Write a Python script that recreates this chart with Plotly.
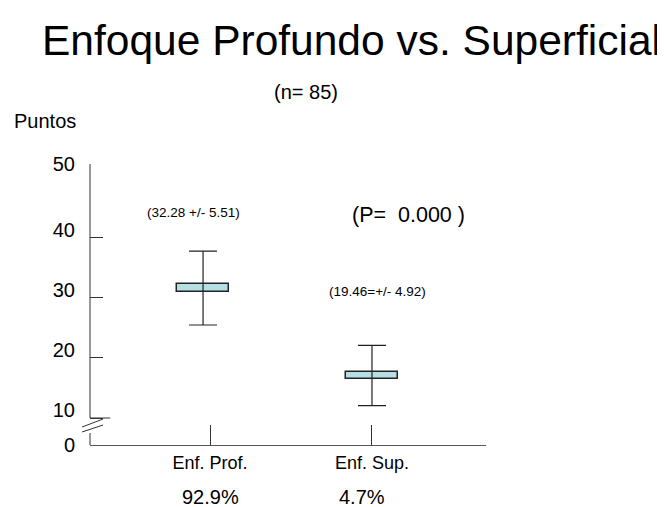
import plotly.graph_objects as go

# ---- data ----
categories = ["Enf. Prof.", "Enf. Sup."]
percentages = ["92.9%", "4.7%"]
box_low = [31.05, 16.5]
box_high = [32.28, 17.72]
whisker_low = [25.5, 12.05]
whisker_high = [37.8, 22.1]
stat_labels = ["(32.28 +/- 5.51)", "(19.46=+/- 4.92)"]
p_label = "(P=\u00a0\u00a00.000 )"
n_label = "(n= 85)"
y_tick_vals = [10, 20, 30, 40]
y_tick_text = ["10", "20", "30", "40"]
y_end_text = ["0", "50"]

# ---- layout helpers (scale / style, not data) ----
cat_pos = [1, 2]
box_shift = [-0.043, 0.0]
Y_BOTTOM, Y_TOP = 5.5, 52.33          # broken axis: bottom shown as "0", top shown as "50"
X_RANGE = [0.259, 2.704]
FONT = "Liberation Sans, Arial, sans-serif"
AX = "#333333"

box_x = [c + s for c, s in zip(cat_pos, box_shift)]
mid = [(lo + hi) / 2 for lo, hi in zip(box_low, box_high)]

fig = go.Figure()

fig.add_trace(go.Bar(
    x=box_x, y=[hi - lo for lo, hi in zip(box_low, box_high)], base=box_low,
    width=0.32, marker=dict(color="#B4E0E4", line=dict(color="#222222", width=1.5)),
    hoverinfo="skip", showlegend=False,
))

fig.add_trace(go.Scatter(
    x=box_x, y=mid, mode="markers", marker=dict(size=1, color="rgba(0,0,0,0)"),
    error_y=dict(type="data", symmetric=False,
                 array=[h - m for h, m in zip(whisker_high, mid)],
                 arrayminus=[m - l for m, l in zip(mid, whisker_low)],
                 width=14, thickness=1.2, color="#222222"),
    hoverinfo="skip", showlegend=False,
))

# second y axis only for the "0" and "50" labels of the broken axis
fig.add_trace(go.Scatter(x=[None], y=[None], yaxis="y2", showlegend=False, hoverinfo="skip"))

shapes = [
    dict(type="line", xref="paper", yref="y", x0=0, x1=0, y0=10, y1=Y_TOP,
         line=dict(color=AX, width=1)),
    dict(type="line", xref="paper", yref="y", x0=0, x1=0, y0=Y_BOTTOM, y1=7.5,
         line=dict(color=AX, width=1)),
    dict(type="line", xref="paper", yref="y", x0=0, x1=0.051, y0=10, y1=10,
         line=dict(color=AX, width=1)),
    dict(type="line", xref="paper", yref="y", x0=-0.02, x1=0.033, y0=8.5, y1=9.83,
         line=dict(color=AX, width=1)),
    dict(type="line", xref="paper", yref="y", x0=-0.02, x1=0.033, y0=7.67, y1=8.83,
         line=dict(color=AX, width=1)),
]

ann = []
def A(text, x, y, size, xref="paper", yref="paper", xanchor="center", yanchor="middle", **kw):
    ann.append(dict(text=text, x=x, y=y, xref=xref, yref=yref, showarrow=False,
                    xanchor=xanchor, yanchor=yanchor,
                    font=dict(family=FONT, size=size, color="#000000"), **kw))

A("Enfoque Profundo vs. Superficial", 0.6616, 1.44, 42.5)
A(n_label, 0.545, 1.256, 20)
A("Puntos", -0.197, 1.153, 20, xanchor="left")
A(stat_labels[0], 0.898, 44.17, 13.5, xref="x", yref="y")
A(stat_labels[1], 2.034, 31.0, 13.5, xref="x", yref="y")
A(p_label, 2.228, 43.8, 21.5, xref="x", yref="y")
pct_shift = [0, -10]
for c, t, s in zip(cat_pos, percentages, pct_shift):
    A(t, c, -0.185, 20, xref="x", xshift=s)

fig.update_layout(
    width=657, height=499,
    margin=dict(l=82, r=179, t=156, b=62),
    paper_bgcolor="white", plot_bgcolor="white",
    font=dict(family=FONT, color="#000000"),
    shapes=shapes, annotations=ann, bargap=0,
    xaxis=dict(range=X_RANGE, showgrid=False, zeroline=False,
               showline=True, linecolor="#555555", linewidth=1,
               tickmode="array", tickvals=cat_pos, ticktext=categories,
               ticks="inside", ticklen=20, tickcolor=AX, tickwidth=1,
               tickfont=dict(family=FONT, size=18, color="#000000"),
               ticklabelstandoff=1),
    yaxis=dict(range=[Y_BOTTOM, Y_TOP], showgrid=False, zeroline=False, showline=False,
               tickmode="array", tickvals=y_tick_vals, ticktext=y_tick_text,
               ticks="inside", ticklen=13, tickcolor=AX, tickwidth=1,
               ticklabelshift=-8,
               tickfont=dict(family=FONT, size=20, color="#000000"),
               ticklabelstandoff=14),
    yaxis2=dict(range=[Y_BOTTOM, Y_TOP], overlaying="y", side="left", anchor="x",
                showgrid=False, zeroline=False, showline=False,
                tickmode="array", tickvals=[Y_BOTTOM, Y_TOP], ticktext=y_end_text,
                ticks="inside", ticklen=13, tickcolor=AX, tickwidth=1,
                tickfont=dict(family=FONT, size=20, color="#000000"),
                ticklabelstandoff=14),
)

fig.write_html("out.html")
